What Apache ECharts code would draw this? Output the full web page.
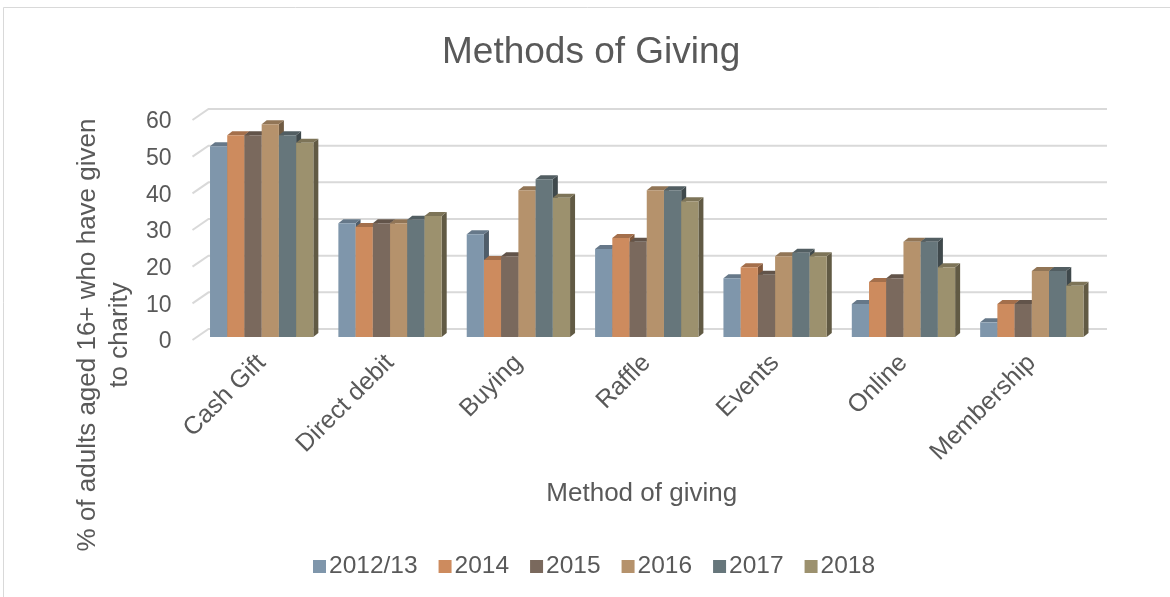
<!DOCTYPE html>
<html>
<head>
<meta charset="utf-8">
<style>
  html, body { margin: 0; padding: 0; background: #ffffff; }
  #chart { width: 1170px; height: 597px; }
</style>
<script src="https://cdn.jsdelivr.net/npm/echarts@6/dist/echarts.min.js"></script>
</head>
<body>
<div id="chart"></div>
<script>
// Share of adults (16+) giving to charity, by method and survey year
const categories = ['Cash Gift', 'Direct debit', 'Buying', 'Raffle', 'Events', 'Online', 'Membership'];
const years = ['2012/13', '2014', '2015', '2016', '2017', '2018'];
const v2012_13 = [52, 31, 28, 24, 16, 9, 4];
const v2014    = [55, 30, 21, 27, 19, 15, 9];
const v2015    = [55, 31, 22, 26, 17, 16, 9];
const v2016    = [58, 31, 40, 40, 22, 26, 18];
const v2017    = [55, 32, 43, 40, 23, 26, 18];
const v2018    = [53, 33, 38, 37, 22, 19, 14];
const yTicks = [0, 10, 20, 30, 40, 50, 60];

const seriesValues = [v2012_13, v2014, v2015, v2016, v2017, v2018];
const colors = ['#7f96ab', '#cd8b5e', '#7a695d', '#b5926c', '#66767b', '#9c916e'];

const FONT = '"Liberation Sans", Arial, sans-serif';
const TEXT = '#595959';
const GRIDC = '#d9d9d9';

// depth of each column's top/side faces, and of the back wall
const DX = 5, DY = 4;
const WALL_BACK = [11, -8], WALL_FRONT = [-5, 3];

function shade(hex, f) {
  const n = parseInt(hex.slice(1), 16);
  const ch = [(n >> 16) & 255, (n >> 8) & 255, n & 255].map(c => Math.round(c * (1 + f)));
  return 'rgb(' + ch.join(',') + ')';
}

function barRender(params, api) {
  const ci = api.value(0), v = api.value(1);
  const base = api.coord([ci, 0]);
  const top = api.coord([ci, v]);
  const band = api.size([1, 0])[0];
  const groupW = band * 0.805;
  const barW = groupW / years.length;
  const x0 = base[0] - groupW / 2 + params.seriesIndex * barW;
  const x1 = x0 + barW;
  const yT = top[1], yB = base[1];
  const c = colors[params.seriesIndex];
  return {
    type: 'group',
    children: [
      { type: 'polygon', shape: { points: [[x1, yT], [x1 + DX, yT - DY], [x1 + DX, yB - DY], [x1, yB]] },
        style: { fill: shade(c, -0.38) } },
      { type: 'polygon', shape: { points: [[x0, yT], [x0 + DX, yT - DY], [x1 + DX, yT - DY], [x1, yT]] },
        style: { fill: shade(c, -0.2) } },
      { type: 'rect', shape: { x: x0, y: yT, width: barW, height: yB - yT },
        style: { fill: c } }
    ]
  };
}

function wallRender(params, api) {
  const y = api.coord([0, api.value(1)])[1];
  const cs = params.coordSys;
  return {
    type: 'polyline',
    shape: { points: [
      [cs.x + WALL_FRONT[0], y + WALL_FRONT[1]],
      [cs.x + WALL_BACK[0], y + WALL_BACK[1]],
      [cs.x + cs.width + WALL_BACK[0], y + WALL_BACK[1]]
    ] },
    style: { stroke: GRIDC, lineWidth: 2, fill: null }
  };
}

const series = years.map((name, i) => ({
  name: name,
  type: 'custom',
  renderItem: barRender,
  itemStyle: { color: colors[i] },
  encode: { x: 0, y: 1 },
  data: seriesValues[i].map((v, ci) => [ci, v]),
  z: 3
}));
series.push({
  name: 'wall',
  type: 'custom',
  renderItem: wallRender,
  silent: true,
  encode: { x: 0, y: 1 },
  data: yTicks.map(t => [0, t]),
  z: 1
});

const chart = echarts.init(document.getElementById('chart'), null, { renderer: 'canvas' });
chart.setOption({
  animation: false,
  backgroundColor: '#ffffff',
  title: {
    text: 'Methods of Giving',
    left: 437,
    top: 29,
    textStyle: { fontFamily: FONT, fontSize: 37, fontWeight: 'normal', color: TEXT }
  },
  legend: {
    data: years,
    bottom: 13,
    left: 308,
    itemWidth: 13,
    itemHeight: 13,
    itemGap: 21,
    icon: 'rect',
    textStyle: { fontFamily: FONT, fontSize: 24.5, color: TEXT, padding: [0, 0, 0, -2] }
  },
  grid: { left: 197.5, top: 117, width: 898.5, height: 220 },
  xAxis: {
    type: 'category',
    data: categories,
    axisLine: { show: false },
    axisTick: { show: false },
    axisLabel: { rotate: 45, interval: 0, margin: 22, fontFamily: FONT, fontSize: 25, color: TEXT },
    name: 'Method of giving',
    nameLocation: 'middle',
    nameGap: 144,
    nameTextStyle: { fontFamily: FONT, fontSize: 26, color: TEXT, padding: [0, 10, 0, 0] }
  },
  yAxis: {
    type: 'value',
    min: 0, max: 60, interval: 10,
    axisLine: { show: false },
    axisTick: { show: false },
    splitLine: { show: false },
    axisLabel: {
      margin: 26,
      formatter: '{t|{value}}',
      rich: { t: { fontFamily: FONT, fontSize: 23, color: TEXT, padding: [10, 0, 0, 0] } }
    }
  },
  graphic: [
    { type: 'rect', silent: true, z: -1,
      shape: { x: 3.5, y: 7.5, width: 1300, height: 800 },
      style: { fill: null, stroke: GRIDC, lineWidth: 1 } },
    { type: 'text', x: 104, y: 335, rotation: Math.PI / 2,
      style: { text: '% of adults aged 16+ who have given\nto charity', align: 'center', verticalAlign: 'middle',
        fontFamily: FONT, fontSize: 26, lineHeight: 32, fill: TEXT } }
  ],
  series: series
});
</script>
</body>
</html>
